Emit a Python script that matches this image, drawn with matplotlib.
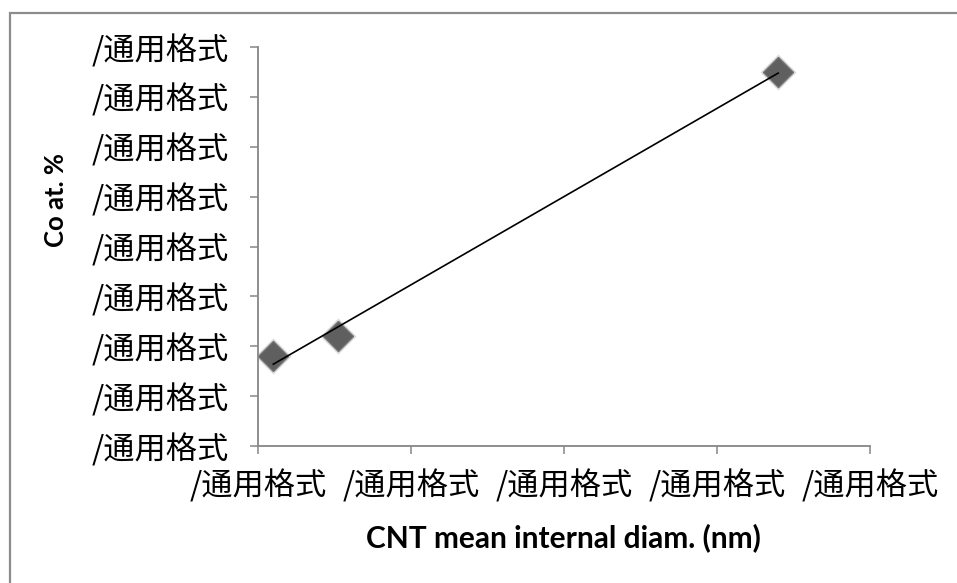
import numpy as np
from matplotlib import pyplot as plt
from matplotlib.patches import Rectangle

# values (tick labels are all the broken Excel format)
diam_nm = [0.5, 2.6, 17.0]
co_at_pct = [0.9, 1.1, 3.75]
x_ticks = [0, 5, 10, 15, 20]
y_ticks = [0, 0.5, 1.0, 1.5, 2.0, 2.5, 3.0, 3.5, 4.0]
tick_label = "/通用格式"
x_title = "CNT mean internal diam. (nm)"
y_title = "Co at. %"

W, H = 957, 583
fig = plt.figure(figsize=(W / 100, H / 100), dpi=100)
ax = fig.add_axes([258 / W, (H - 446) / H, (870 - 258) / W, (446 - 47) / H])

axis_grey = "#868686"
cjk = ["Noto Sans CJK SC", "DejaVu Sans"]

# trendline (linear fit, drawn across the data range)
slope, icpt = np.polyfit(diam_nm, co_at_pct, 1)
xs = np.array([min(diam_nm), max(diam_nm)])
ax.plot(xs, slope * xs + icpt, color="black", lw=1.2, zorder=3)

# soft shadow under markers, then markers
ax.plot(diam_nm, co_at_pct, "D", ls="none", ms=18, color="#b5b5b5", alpha=0.5, mec="none", zorder=2)
ax.plot(diam_nm, co_at_pct, "D", ls="none", ms=15, color="#5f5f5f", mec="#707070", mew=1, zorder=2)

ax.set_xlim(x_ticks[0], x_ticks[-1])
ax.set_ylim(y_ticks[0], y_ticks[-1])
ax.set_xticks(x_ticks)
ax.set_yticks(y_ticks)
ax.set_xticklabels([tick_label] * len(x_ticks), family=cjk, fontsize=22.5)
ax.set_yticklabels([tick_label] * len(y_ticks), family=cjk, fontsize=22.5)
ax.tick_params(axis="both", direction="out", length=6, width=1.1, color=axis_grey)
ax.tick_params(axis="x", pad=11)
ax.tick_params(axis="y", pad=15)

for side in ["top", "right"]:
    ax.spines[side].set_visible(False)
for side in ["left", "bottom"]:
    ax.spines[side].set_color(axis_grey)
    ax.spines[side].set_linewidth(1.3)

fig.text(563 / W, 1 - 538 / H, x_title, ha="center", va="center",
         fontsize=21.5, fontweight="bold", family="Lato")
fig.text(56 / W, 1 - 200 / H, y_title, ha="center", va="center", rotation=90,
         fontsize=18.5, fontweight="bold", family="Lato")

# chart area border (only left/top visible in the crop)
fig.patches.append(Rectangle((10 / W, -0.05), 1.1, 1 - 13 / H + 0.05, transform=fig.transFigure,
                             fill=False, ec="#8c8c8c", lw=1.6))

fig.savefig("out.png", dpi=100)
